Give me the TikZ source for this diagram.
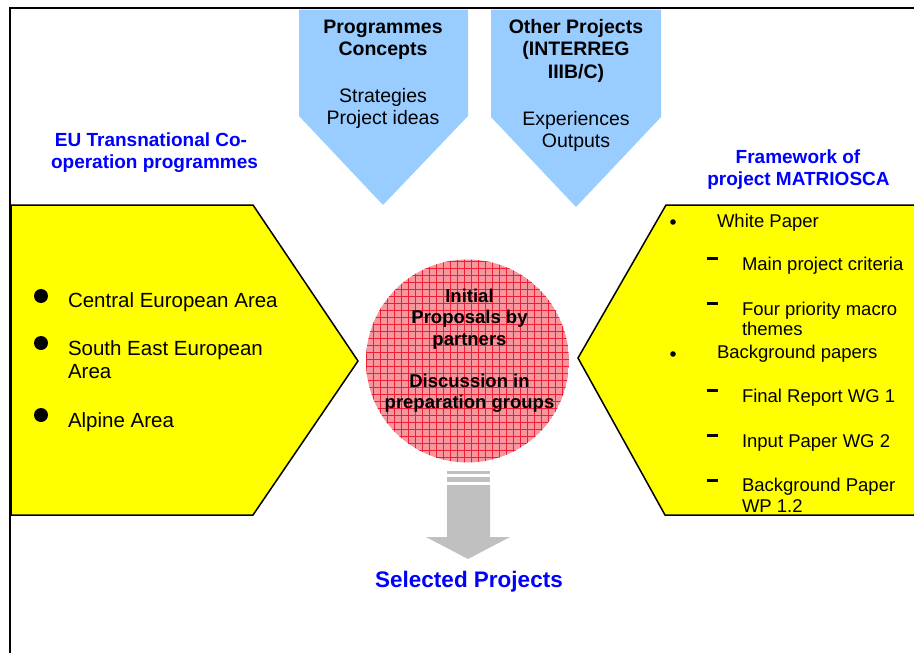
\documentclass[tikz,border=0pt]{standalone}
\usepackage{fontspec}
\setmainfont{Liberation Sans}
\definecolor{skyblue}{RGB}{153,204,255}
\definecolor{panelyellow}{RGB}{255,255,0}
\definecolor{titleblue}{RGB}{0,0,255}
\definecolor{arrowgrey}{RGB}{192,192,192}
\definecolor{discfill}{RGB}{246,150,158}
\definecolor{discgrid}{RGB}{240,30,50}
\begin{document}
\begin{tikzpicture}[x=1pt,y=-1pt,
  every node/.style={inner sep=0pt,outer sep=0pt},
  toptext/.style={anchor=base,font=\fontsize{19.5}{23}\selectfont},
  topbold/.style={toptext,font=\fontsize{19.5}{23}\selectfont\bfseries},
  heading/.style={anchor=base,text=titleblue,font=\fontsize{19}{22}\selectfont\bfseries},
  leftitem/.style={anchor=base west,font=\fontsize{20.5}{23}\selectfont},
  rightitem/.style={anchor=base west,font=\fontsize{18.5}{21}\selectfont},
  disctext/.style={anchor=base,font=\fontsize{18.5}{21}\selectfont\bfseries},
  panel/.style={fill=panelyellow,draw=black,line width=1.5pt,line join=miter},
  tab/.style={fill=skyblue},
]
\useasboundingbox (0,0) rectangle (914,653);
\clip (0,0) rectangle (914,653);

% outer frame: top and left edges
\draw[line width=2pt] (10,653) -- (10,8) -- (914,8);

% input tabs hanging from the top
\fill[tab] (299,9.5) -- (468,9.5) -- (468,116) -- (383,205) -- (299,116) -- cycle;
\fill[tab] (491,9.5) -- (661,9.5) -- (661,117) -- (576,207) -- (491,117) -- cycle;

\node[topbold] (pc1) at (383,33) {Programmes};
\node[topbold] (pc2) at (383,56) {Concepts};
\node[toptext] (pc3) at (383,102) {Strategies};
\node[toptext] (pc4) at (383,124) {Project ideas};

\node[topbold] (op1) at (576,33) {Other Projects};
\node[topbold] (op2) at (576,56) {(INTERREG};
\node[topbold] (op3) at (576,78) {IIIB/C)};
\node[toptext] (op4) at (576,125) {Experiences};
\node[toptext] (op5) at (576,147) {Outputs};

% side headings
\node[heading] (eu1) at (151,146) {EU Transnational Co-};
\node[heading] (eu2) at (154.5,168) {operation programmes};
\node[heading] (fw1) at (798,163) {Framework of};
\node[heading] (fw2) at (798.5,185) {project MATRIOSCA};

% left panel
\draw[panel] (11,205) -- (253,205) -- (358,361) -- (253,515) -- (11,515) -- cycle;
\fill (41,296) circle (7);
\fill (41,343) circle (7);
\fill (41,415) circle (7);
\node[leftitem] (ce) at (68,307) {Central European Area};
\node[leftitem] (se1) at (68,355) {South East European};
\node[leftitem] (se2) at (68,378) {Area};
\node[leftitem] (al) at (68,427) {Alpine Area};

% right panel
\draw[panel] (930,205) -- (666,205) -- (578,358) -- (665,515) -- (930,515) -- cycle;
\fill (673,222) circle (2.8);
\fill (673,354) circle (2.8);
\foreach \y in {258,303,390,435,480}
  \fill (707,\y-1.5) rectangle (718,\y+1.5);
\node[rightitem] (wp) at (717,227) {White Paper};
\node[rightitem] (mc) at (742,270) {Main project criteria};
\node[rightitem] (fp1) at (742,315) {Four priority macro};
\node[rightitem] (fp2) at (742,335) {themes};
\node[rightitem] (bp) at (717,358) {Background papers};
\node[rightitem] (fr) at (742,402) {Final Report WG 1};
\node[rightitem] (ip) at (742,447) {Input Paper WG 2};
\node[rightitem] (bg1) at (742,491) {Background Paper};
\node[rightitem] (bg2) at (742,512) {WP 1.2};

% central discussion disc with a checked fill
\begin{scope}
  \clip (467.5,361) circle (101.5);
  \fill[discfill] (467.5,361) circle (101.5);
  \foreach \k in {0,...,29}
    \draw[discgrid,line width=0.6pt] (366+7*\k,255) -- (366+7*\k,470);
  \foreach \k in {0,...,29}
    \draw[discgrid,line width=0.6pt] (360,261+7*\k) -- (575,261+7*\k);
\end{scope}
\node[disctext] (d1) at (469.5,302) {Initial};
\node[disctext] (d2) at (469.5,323.5) {Proposals by};
\node[disctext] (d3) at (469.5,345) {partners};
\node[disctext] (d4) at (469.5,387) {Discussion in};
\node[disctext] (d5) at (469.5,408.5) {preparation groups};

% striped grey arrow down to the result
\fill[arrowgrey] (447,471) rectangle (490,474);
\fill[arrowgrey] (447,477) rectangle (490,482);
\fill[arrowgrey] (447,485) -- (490,485) -- (490,537) -- (510,537) -- (468,559)
  -- (426,537) -- (447,537) -- cycle;

\node[anchor=base,text=titleblue,font=\fontsize{22.5}{26}\selectfont\bfseries]
  (sel) at (469,587) {Selected Projects};
\end{tikzpicture}
\end{document}
